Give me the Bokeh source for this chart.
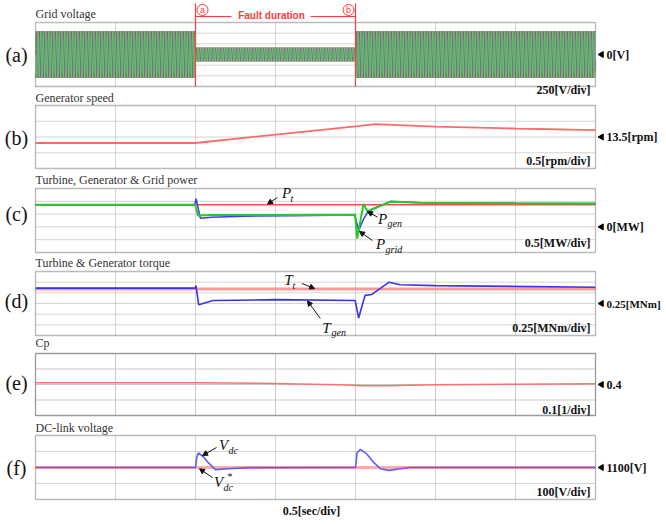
import numpy as np
from bokeh.plotting import figure
from bokeh.models import Range1d, Label, Arrow, NormalHead
from bokeh.embed import file_html
from bokeh.resources import INLINE

# ---------------- data ----------------
t_total = 3.5            # seconds shown (7 div x 0.5 s)
sec_per_div = 0.5
t_fault_start = 1.0
t_fault_end = 2.0

# (a) grid voltage: 3-phase, nominal frequency, peak amplitude before/during/after fault
grid_freq_hz = 60.0
grid_peak_normal_v = 550.0
grid_peak_fault_v = 165.0
grid_phase_shift_deg = [0.0, -120.0, 120.0]

# (b) generator speed [rpm]
speed_t = [0.0, 1.0, 2.0, 2.125, 2.5, 3.0, 3.5]
speed_rpm = [13.31, 13.31, 13.84, 13.91, 13.83, 13.77, 13.72]

# (c) powers [MW]
pt_t = [0.0, 3.5]
pt_mw = [0.87, 0.87]
pgen_t = [0.0, 0.995, 1.004, 1.03, 1.1, 1.3, 1.6, 1.995, 2.008, 2.02, 2.05, 2.075,
          2.11, 2.16, 2.22, 2.4, 3.0, 3.5]
pgen_mw = [0.87, 0.87, 1.10, 0.34, 0.38, 0.42, 0.44, 0.46, 0.15, -0.14, 0.30, 0.57,
           0.71, 0.84, 0.99, 0.94, 0.92, 0.91]
pgrid_t = [0.0, 0.998, 1.015, 1.1, 1.5, 1.998, 2.01, 2.05, 2.075, 2.22, 2.4, 3.0, 3.5]
pgrid_mw = [0.87, 0.87, 0.45, 0.46, 0.46, 0.47, -0.46, 0.90, 0.61, 0.99, 0.94, 0.92, 0.91]

# (d) torques [MNm]
tt_t = [0.0, 3.5]
tt_mnm = [0.59, 0.59]
tgen_t = [0.0, 0.998, 1.003, 1.02, 1.11, 1.5, 1.998, 2.012, 2.02, 2.03, 2.06, 2.1,
          2.21, 2.28, 2.5, 3.5]
tgen_mnm = [0.61, 0.61, 0.67, 0.22, 0.32, 0.34, 0.32, 0.05, -0.09, 0.05, 0.44, 0.46,
            0.75, 0.69, 0.67, 0.63]

# (e) power coefficient Cp
cp_t = [0.0, 1.0, 1.4, 1.9, 2.05, 2.2, 2.5, 3.0, 3.5]
cp_val = [0.411, 0.411, 0.408, 0.399, 0.392, 0.392, 0.398, 0.402, 0.405]

# (f) DC-link voltage [V]
vdc_ref_t = [0.0, 3.5]
vdc_ref_v = [1100, 1100]
vdc_t = [0.0, 1.0, 1.008, 1.019, 1.05, 1.08, 1.125, 1.2, 1.34, 2.0, 2.01, 2.031,
         2.073, 2.115, 2.156, 2.21, 2.28, 2.34, 3.5]
vdc_v = [1100, 1100, 1165, 1192, 1165, 1130, 1087, 1092, 1099, 1100, 1192, 1213,
         1182, 1130, 1092, 1082, 1092, 1100, 1100]

# ---------------- layout (page pixels) ----------------
W, H = 666, 525
PX0, PY0 = 0, 0                      # page offset of canvas
PX1, PY1 = PX0 + W, PY0 + H
BOX_L, BOX_R = 35, 595               # panel box horizontal extent (page px)
px_per_sec = (BOX_R - BOX_L) / t_total

# name: top, bottom, lo, hi, ndiv, level, level_txt, level_font, scale_txt, scale_y, title, title_y, letter, letter_y, solid
panels = {
    "a": (22, 86, -750.0, 750.0, 6, 0.0, "0[V]", "12px", "250[V/div]", 89, "Grid voltage", 13, "(a)", 54, False),
    "b": (105, 168, 12.5, 14.5, 4, 13.5, "13.5[rpm]", "12px", "0.5[rpm/div]", 160, "Generator speed", 97, "(b)", 137, False),
    "c": (188, 252, -1.0, 1.5, 5, 0.0, "0[MW]", "12px", "0.5[MW/div]", 242, "Turbine, Generator & Grid power", 179, "(c)", 213, False),
    "d": (271, 335, -0.5, 1.0, 6, 0.25, "0.25[MNm]", "11px", "0.25[MNm/div]", 327, "Turbine & Generator torque", 262, "(d)", 300, False),
    "e": (353, 415, 0.2, 0.6, 4, 0.4, "0.4", "12px", "0.1[1/div]", 409, "Cp", 342, "(e)", 382, True),
    "f": (435, 499, 900.0, 1300.0, 4, 1100.0, "1100[V]", "12px", "100[V/div]", 491, "DC-link voltage", 427, "(f)", 467, False),
}

x_start = -(BOX_L - PX0) / px_per_sec
x_end = t_total + (PX1 - BOX_R) / px_per_sec

p = figure(width=W, height=H, title=None,
           x_range=Range1d(x_start, x_end), y_range=Range1d(PY1, PY0),
           x_axis_type=None, y_axis_type=None, min_border=0,
           toolbar_location=None, output_backend="svg",
           outline_line_color=None, background_fill_color="white",
           border_fill_color="white")
p.extra_x_ranges = {"px": Range1d(PX0, PX1)}

ranges = {}
for name, (top, bot, lo, hi, *_rest) in panels.items():
    s = (hi - lo) / (bot - top)
    ranges[name] = Range1d(lo - (PY1 - bot) * s, hi + (top - PY0) * s)
p.extra_y_ranges = ranges

SERIF = "Liberation Serif"
SANS = "Liberation Sans"

vgrid_t = [sec_per_div * k for k in range(1, int(round(t_total / sec_per_div)))]

# grids first
for name, (top, bot, lo, hi, ndiv, *_r, solid) in panels.items():
    gcol = "#c8c8c8" if solid else "#a9a9a9"
    gdash = "solid" if solid else "1 1"
    p.segment(x0=vgrid_t, y0=[lo] * len(vgrid_t), x1=vgrid_t, y1=[hi] * len(vgrid_t),
              line_color=gcol, line_width=1, line_dash=gdash, y_range_name=name)
    hv = [lo + k * (hi - lo) / ndiv for k in range(1, ndiv)]
    p.segment(x0=[0.0] * len(hv), y0=hv, x1=[t_total] * len(hv), y1=hv,
              line_color=gcol, line_width=1, line_dash=gdash, y_range_name=name)

# (a) grid voltage waveform
tw = np.arange(0.0, t_total, 1.0 / (grid_freq_hz * 24))
in_fault = (tw >= t_fault_start) & (tw < t_fault_end)
amp = np.where(in_fault, grid_peak_fault_v, grid_peak_normal_v)
phase_colors = ["#e0702a", "#7b3fb3", "#3fd45c"]
for ph, col in zip(grid_phase_shift_deg, phase_colors):
    va = amp * np.sin(2 * np.pi * grid_freq_hz * tw + np.deg2rad(ph))
    p.line(tw, va, line_color=col, line_width=1, alpha=0.85, y_range_name="a")

# (b)
p.line(speed_t, speed_rpm, line_color="#ff6b6b", line_width=1.8, y_range_name="b")
# (c)
p.line(pt_t, pt_mw, line_color="#ff4d4d", line_width=1.5, y_range_name="c")
p.line(pgen_t, pgen_mw, line_color="#3a3aff", line_width=1.5, y_range_name="c")
p.line(pgrid_t, pgrid_mw, line_color="#22cc22", line_width=2, y_range_name="c")
# (d)
p.line(tt_t, tt_mnm, line_color="#ff9999", line_width=3, y_range_name="d")
p.line(tgen_t, tgen_mnm, line_color="#3535ee", line_width=1.6, y_range_name="d")
# (e)
p.line(cp_t, cp_val, line_color="#ff7070", line_width=1.5, y_range_name="e")
# (f)
p.line(vdc_ref_t, vdc_ref_v, line_color="#ffaaaa", line_width=3, y_range_name="f")
p.line(vdc_t, vdc_v, line_color="#5c5cff", line_width=1.6, y_range_name="f")

# boxes, level markers and texts
for name, (top, bot, lo, hi, ndiv, level, ltxt, lfont, stxt, sy, title, ty, letter, ly, solid) in panels.items():
    bcol = "#9a9a9a" if solid else "#777777"
    bdash = "solid" if solid else "1 1"
    p.quad(left=[0.0], right=[t_total], bottom=[lo], top=[hi], fill_color=None,
           line_color=bcol, line_width=1.3, line_dash=bdash, y_range_name=name)
    p.scatter(x=[t_total + 6 / px_per_sec], y=[level], marker="triangle", angle=np.pi / 2,
              size=6, fill_color="black", line_color="black", y_range_name=name)
    p.add_layout(Label(x=t_total + 11 / px_per_sec, y=level, y_range_name=name, text=ltxt,
                       text_font=SERIF, text_font_style="bold", text_font_size=lfont,
                       text_color="#111111", text_baseline="middle", text_align="left"))
    p.add_layout(Label(x=590, y=sy, x_range_name="px", text=stxt, text_font=SERIF,
                       text_font_style="bold", text_font_size="12px", text_color="#111111",
                       text_baseline="middle", text_align="right"))
    p.add_layout(Label(x=BOX_L, y=ty, x_range_name="px", text=title, text_font=SERIF,
                       text_font_size="12px", text_color="#333333",
                       text_baseline="middle", text_align="left"))
    p.add_layout(Label(x=16, y=ly, x_range_name="px", text=letter, text_font=SERIF,
                       text_font_size="20px", text_color="#111111",
                       text_baseline="middle", text_align="center"))

p.add_layout(Label(x=311, y=510, x_range_name="px", text="0.5[sec/div]", text_font=SERIF,
                   text_font_style="bold", text_font_size="12px", text_color="#111111",
                   text_baseline="middle", text_align="center"))

# fault duration markers
RED = "#ff3b3b"
p.segment(x0=[t_fault_start, t_fault_end], y0=[3, 3], x1=[t_fault_start, t_fault_end],
          y1=[86, 86], line_color=RED, line_width=1.2)
p.segment(x0=[195, 310], y0=[16, 16], x1=[231, 355], y1=[16, 16], x_range_name="px",
          line_color=RED, line_width=1.2)
p.scatter(x=[202, 348], y=[9.5, 9.5], x_range_name="px", marker="circle", size=11,
          fill_color="white", line_color=RED, line_width=1)
for cx, ch in ((202, "a"), (348, "b")):
    p.add_layout(Label(x=cx, y=9.5, x_range_name="px", text=ch, text_font=SANS,
                       text_font_size="9px", text_color=RED, text_baseline="middle",
                       text_align="center"))
p.add_layout(Label(x=271, y=15, x_range_name="px", text="Fault duration", text_font=SANS,
                   text_font_style="bold", text_font_size="10px", text_color=RED,
                   text_baseline="middle", text_align="center"))


# signal name annotations (main letter + subscript)
def sym(x, y, main, sub, sub_dx, sub_dy, sup=None):
    p.add_layout(Label(x=x, y=y, x_range_name="px", text=main, text_font=SERIF,
                       text_font_style="italic", text_font_size="15px", text_color="#111111",
                       text_baseline="middle", text_align="center"))
    p.add_layout(Label(x=x + sub_dx, y=y + sub_dy, x_range_name="px", text=sub,
                       text_font=SERIF, text_font_style="italic", text_font_size="10px",
                       text_color="#111111", text_baseline="middle", text_align="left"))
    if sup:
        p.add_layout(Label(x=x + sub_dx + 4, y=y - 5, x_range_name="px", text=sup,
                           text_font=SERIF, text_font_size="10px", text_color="#111111",
                           text_baseline="middle", text_align="left"))


sym(286, 192, "P", "t", 4, 6)
sym(382, 218, "P", "gen", 5, 5)
sym(380, 243, "P", "grid", 5, 6)
sym(288, 279, "T", "t", 4, 6)
sym(326, 327, "T", "gen", 5, 5)
sym(223, 444, "V", "dc", 5, 6)
sym(218, 481, "V", "dc", 5, 6, sup="*")


def arrow(panel, t0, v0, t1, v1):
    p.add_layout(Arrow(x_start=t0, y_start=v0, x_end=t1, y_end=v1, y_range_name=panel,
                       line_color="#111111", line_width=1,
                       end=NormalHead(size=5, fill_color="#111111", line_color="#111111")))


arrow("c", 1.5125, 1.15, 1.45, 0.89)
arrow("c", 2.1375, 0.38, 2.075, 0.60)
arrow("c", 2.106, -0.53, 2.025, -0.18)
arrow("d", 1.665, 0.72, 1.745, 0.60)
arrow("d", 1.78, -0.10, 1.70, 0.31)
arrow("f", 1.131, 1225, 1.044, 1175)
arrow("f", 1.106, 1037, 1.025, 1092)

open("out.html", "w").write(file_html(p, INLINE, title="Fault ride-through waveforms"))
